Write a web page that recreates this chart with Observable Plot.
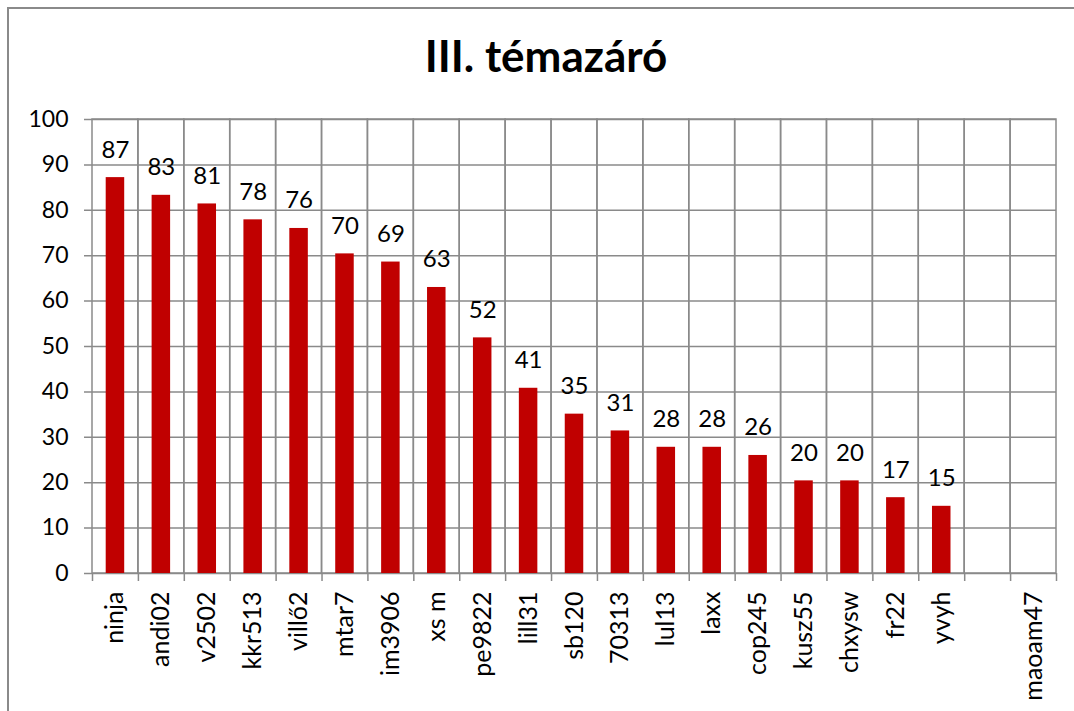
<!DOCTYPE html>
<html>
<head>
<meta charset="utf-8">
<script src="https://cdn.jsdelivr.net/npm/d3@7"></script>
<script src="https://cdn.jsdelivr.net/npm/@observablehq/plot@0.6"></script>
<style>
  html, body { margin: 0; padding: 0; background: #fff; }
  #wrap { position: relative; width: 1074px; height: 711px; overflow: hidden; font-family: Lato, "Open Sans", sans-serif; }
  #frame { position: absolute; left: 7px; top: 7px; width: 1200px; height: 800px; border-left: 2px solid #8a8a8a; border-top: 2px solid #8a8a8a; }
  #title { position: absolute; left: 18px; right: 0; top: 33px; text-align: center; font-size: 44px; font-weight: bold; color: #000; line-height: 1; }
  #chart { position: absolute; left: 0; top: 100px; }
</style>
</head>
<body>
<div id="wrap">
  <div id="frame"></div>
  <div id="title">III. témazáró</div>
  <div id="chart"></div>
</div>
<script>
const names = ["ninja","andi02","v2502","kkr513","villő2","mtar7","im3906","xs m","pe9822","lill31","sb120","70313","lul13","laxx","cop245","kusz55","chxysw","fr22","yvyh","","maoam47"];
const scores = [87.2,83.3,81.4,77.9,76.0,70.4,68.6,63.0,51.9,40.8,35.1,31.4,27.8,27.8,26.0,20.4,20.4,16.7,14.8,null,null];
const yTicks = [0,10,20,30,40,50,60,70,80,90,100];

const data = names.map((n, i) => ({name: n, score: scores[i]}));
const withValues = data.filter(d => d.score != null);

const W = 1074, H = 611, ML = 92, MR = 18, MT = 19, MB = 138;
const bw = (W - ML - MR) / names.length;
const grid = "#8a8a8a";

const chart = Plot.plot({
  width: W, height: H,
  marginLeft: ML, marginRight: MR, marginTop: MT, marginBottom: MB,
  style: {fontFamily: "Lato, 'Open Sans', sans-serif", background: "transparent", overflow: "visible"},
  x: {type: "band", domain: names, padding: 0, align: 0.5, round: false},
  y: {domain: [0, 100], ticks: yTicks},
  marks: [
    Plot.ruleY(yTicks, {stroke: grid, strokeWidth: 1.5, insetLeft: -8}),
    Plot.barY(names, {x: d => d, y1: 0, y2: 100, fill: "none", stroke: grid, strokeWidth: 1.5}),
    Plot.ruleX(names, {x: d => d, y1: 0, y2: 0, insetBottom: -8, dx: -bw / 2, stroke: grid, strokeWidth: 1.5}),
    Plot.ruleX([names[names.length - 1]], {x: d => d, y1: 0, y2: 0, insetBottom: -8, dx: bw / 2, stroke: grid, strokeWidth: 1.5}),
    Plot.barY(withValues, {x: "name", y: "score", fill: "#c00000", insetLeft: 13.7, insetRight: 13.7}),
    Plot.text(withValues, {x: "name", y: "score", text: d => d3.format(".0f")(d.score), lineAnchor: "bottom", dy: -20, fontSize: 24, fill: "#000"}),
    Plot.axisY({ticks: yTicks, tickSize: 0, tickPadding: 24, fontSize: 23, label: null, color: "#000"}),
    Plot.axisX({tickSize: 0, tickPadding: 18, tickRotate: -90, fontSize: 25, label: null, color: "#000"})
  ]
});
document.getElementById("chart").appendChild(chart);
</script>
</body>
</html>
